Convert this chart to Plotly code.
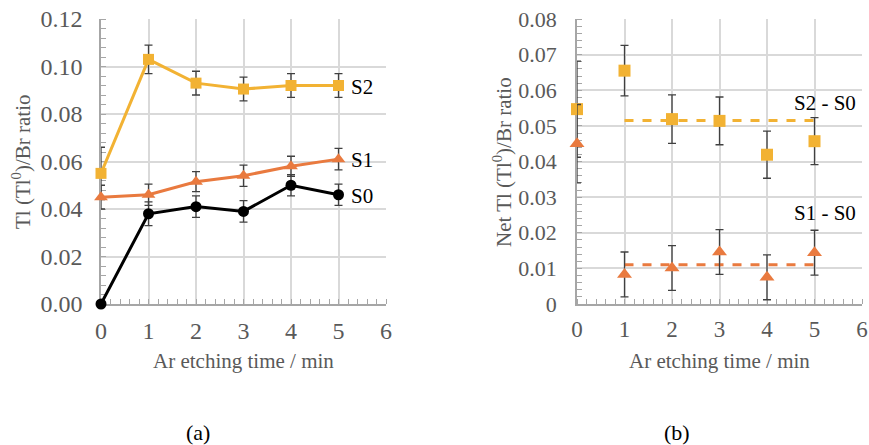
import plotly.graph_objects as go
from plotly.subplots import make_subplots

# ---------------- data ----------------
time_min = [0, 1, 2, 3, 4, 5]

s0 = [0.000, 0.038, 0.041, 0.039, 0.050, 0.046]
s0_err = [0.0, 0.005, 0.0045, 0.0045, 0.0045, 0.0045]
s1 = [0.045, 0.046, 0.0515, 0.054, 0.058, 0.061]
s1_err = [0.005, 0.0045, 0.0042, 0.0045, 0.0042, 0.0045]
s2 = [0.055, 0.103, 0.093, 0.0905, 0.092, 0.092]
s2_err = [0.011, 0.006, 0.005, 0.005, 0.005, 0.005]

net_s2 = [0.0547, 0.0655, 0.0519, 0.0514, 0.0419, 0.0457]
net_s2_err = [0.0135, 0.0071, 0.0068, 0.0067, 0.0066, 0.0066]
net_s1 = [0.045, 0.0083, 0.0101, 0.0146, 0.0075, 0.0144]
net_s1_err = [0.011, 0.0063, 0.0063, 0.0063, 0.0063, 0.0063]

mean_x = [1, 5]
mean_s2 = [0.0515, 0.0515]
mean_s1 = [0.011, 0.011]

x_ticks = [0, 1, 2, 3, 4, 5, 6]
left_yticks = [0, 0.02, 0.04, 0.06, 0.08, 0.10, 0.12]
left_ytext = ["0.00", "0.02", "0.04", "0.06", "0.08", "0.10", "0.12"]
right_yticks = [0, 0.01, 0.02, 0.03, 0.04, 0.05, 0.06, 0.07, 0.08]
right_ytext = ["0", "0.01", "0.02", "0.03", "0.04", "0.05", "0.06", "0.07", "0.08"]

# ---------------- style ----------------
C_S2 = "#F2B233"
C_S1 = "#E97A3F"
C_S0 = "#000000"
C_ERR = "#404040"
GRID = "#d9d9d9"
AXIS = "#a6a6a6"
TXT = "#595959"
FONT = "Times New Roman, serif"
CLEAR = "rgba(0,0,0,0)"

W, H = 869, 445
def px_x(p):
    return p / W
def px_y(p):
    return 1 - p / H

fig = make_subplots(rows=1, cols=2)

def err(vals):
    return dict(type="data", array=vals, visible=True, color=C_ERR,
                thickness=1.3, width=4)

# left panel
fig.add_trace(go.Scatter(x=time_min, y=s2, mode="lines+markers", cliponaxis=False,
                         line=dict(color=C_S2, width=3),
                         marker=dict(symbol="square", size=11, color=C_S2),
                         error_y=err(s2_err), showlegend=False), row=1, col=1)
fig.add_trace(go.Scatter(x=time_min, y=s1, mode="lines+markers", cliponaxis=False,
                         line=dict(color=C_S1, width=3),
                         marker=dict(symbol="triangle-up", size=12, color=C_S1),
                         error_y=err(s1_err), showlegend=False), row=1, col=1)
fig.add_trace(go.Scatter(x=time_min, y=s0, mode="lines+markers", cliponaxis=False,
                         line=dict(color=C_S0, width=3),
                         marker=dict(symbol="circle", size=11, color=C_S0),
                         error_y=err(s0_err), showlegend=False), row=1, col=1)

# right panel
fig.add_trace(go.Scatter(x=mean_x, y=mean_s2, mode="lines",
                         line=dict(color=C_S2, width=3, dash="dash"),
                         showlegend=False), row=1, col=2)
fig.add_trace(go.Scatter(x=mean_x, y=mean_s1, mode="lines",
                         line=dict(color=C_S1, width=3, dash="dash"),
                         showlegend=False), row=1, col=2)
fig.add_trace(go.Scatter(x=time_min, y=net_s2, mode="markers", cliponaxis=False,
                         marker=dict(symbol="square", size=12, color=C_S2),
                         error_y=err(net_s2_err), showlegend=False), row=1, col=2)
fig.add_trace(go.Scatter(x=time_min, y=net_s1, mode="markers", cliponaxis=False,
                         marker=dict(symbol="triangle-up", size=13, color=C_S1),
                         error_y=err(net_s1_err), showlegend=False), row=1, col=2)

def xaxis_style(size):
    return dict(range=[0, 6], tickvals=x_ticks, showgrid=True, gridcolor=GRID,
                gridwidth=1.5, showline=True, linecolor=AXIS, linewidth=1.5,
                ticks="outside", ticklen=4, tickcolor=CLEAR, zeroline=False,
                automargin=False, layer="below traces",
                tickfont=dict(family=FONT, size=size, color=TXT),
                minor=dict(dtick=0.2, ticks="inside", ticklen=5,
                           tickcolor=AXIS, showgrid=False))
fig.update_xaxes(domain=[px_x(101), px_x(386)], **xaxis_style(24), row=1, col=1)
fig.update_xaxes(domain=[px_x(577), px_x(862)], **xaxis_style(23), row=1, col=2)

def yaxis_style(size, gap):
    return dict(showgrid=True, gridcolor=GRID, gridwidth=1.5, showline=True,
                linecolor=AXIS, linewidth=1.5, ticks="outside", ticklen=gap,
                tickcolor=CLEAR, zeroline=False, automargin=False,
                layer="below traces",
                tickfont=dict(family=FONT, size=size, color=TXT))
fig.update_yaxes(domain=[px_y(304), px_y(19)], range=[0, 0.12],
                 tickvals=left_yticks, ticktext=left_ytext,
                 minor=dict(dtick=0.004, ticks="inside", ticklen=5,
                            tickcolor=AXIS, showgrid=False),
                 **yaxis_style(24, 12), row=1, col=1)
fig.update_yaxes(domain=[px_y(304), px_y(19)], range=[0, 0.08],
                 tickvals=right_yticks, ticktext=right_ytext,
                 minor=dict(dtick=0.002, ticks="inside", ticklen=5,
                            tickcolor=AXIS, showgrid=False),
                 **yaxis_style(22, 14), row=1, col=2)

ann = []
def lab(text, x, y, xref="paper", yref="paper", size=21, color=TXT, angle=0,
        xanchor="center"):
    ann.append(dict(text=text, x=x, y=y, xref=xref, yref=yref, showarrow=False,
                    font=dict(family=FONT, size=size, color=color),
                    textangle=angle, xanchor=xanchor, yanchor="middle"))

# series labels
lab("S2", 5.22, 0.0914, xref="x", yref="y", size=21, color="#000000", xanchor="left")
lab("S1", 5.22, 0.0606, xref="x", yref="y", size=21, color="#000000", xanchor="left")
lab("S0", 5.22, 0.0455, xref="x", yref="y", size=21, color="#000000", xanchor="left")
lab("S2 - S0", px_x(858), px_y(103), size=21, color="#000000", xanchor="right")
lab("S1 - S0", px_x(858), px_y(213), size=21, color="#000000", xanchor="right")

# axis titles
lab("Ar etching time / min", px_x(243.5), px_y(361), size=21)
lab("Ar etching time / min", px_x(719.5), px_y(361), size=21)
lab("Tl (Tl<sup>0</sup>)/Br ratio", px_x(22), px_y(162), size=21, angle=-90)
lab("Net Tl (Tl<sup>0</sup>)/Br ratio", px_x(503), px_y(162), size=21, angle=-90)

# panel labels
lab("(a)", px_x(198), px_y(432), size=22, color="#000000")
lab("(b)", px_x(677), px_y(432), size=22, color="#000000")

fig.update_layout(width=W, height=H, margin=dict(l=0, r=0, t=0, b=0),
                  paper_bgcolor="white", plot_bgcolor="white",
                  annotations=ann, showlegend=False)

fig.write_html("out.html", config={"displayModeBar": False},
               post_script="document.body.style.margin='0';"
                           "document.body.style.padding='0';")
